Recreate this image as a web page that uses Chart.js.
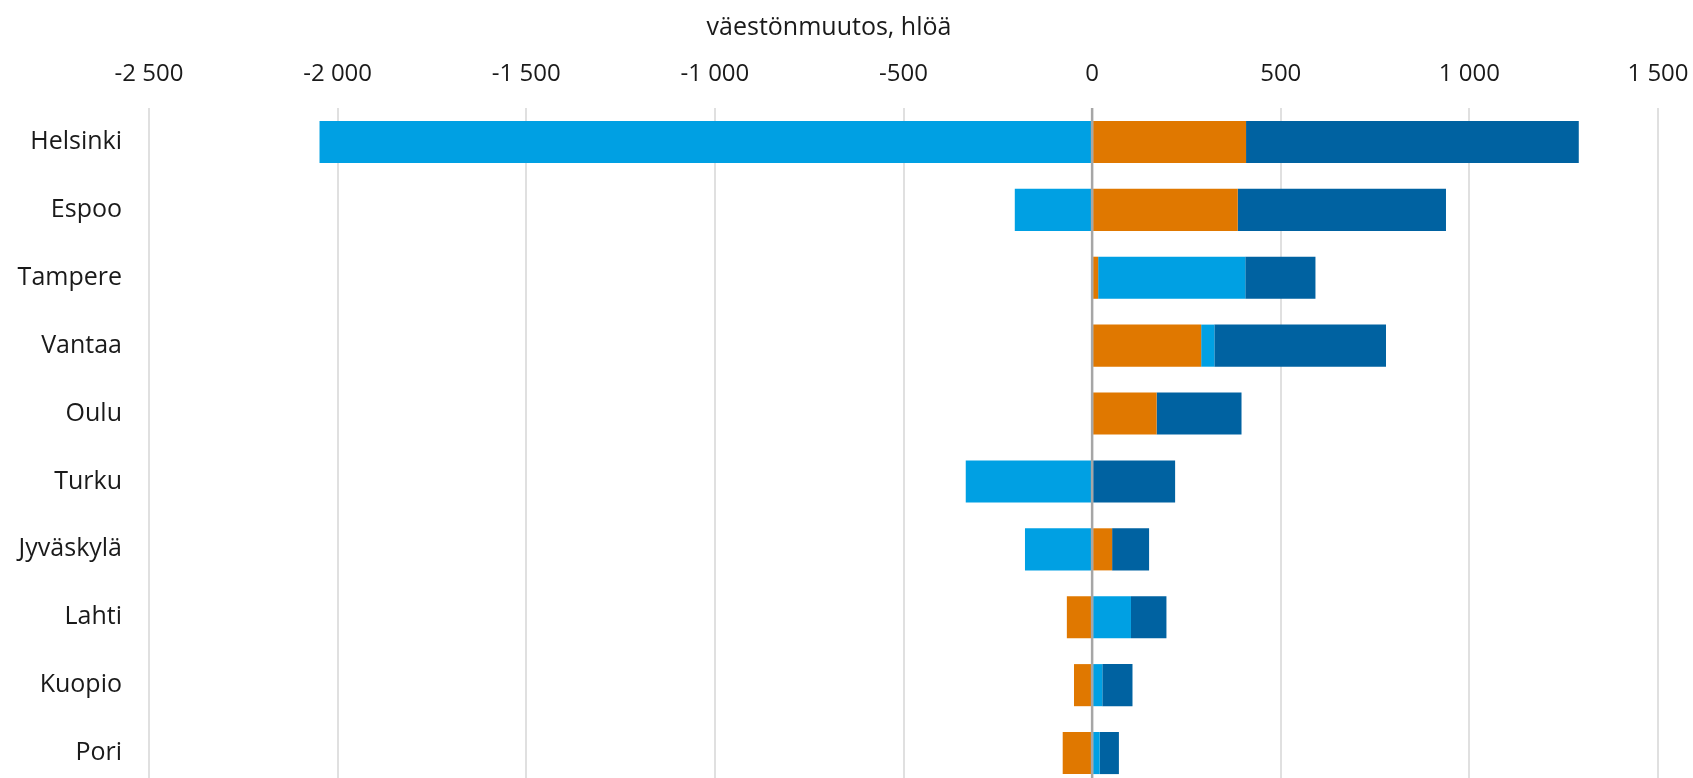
<!DOCTYPE html>
<html>
<head>
<meta charset="utf-8">
<script src="https://cdn.jsdelivr.net/npm/chart.js@4"></script>
<style>
  html, body { margin: 0; padding: 0; background: #fff; overflow: hidden; }
</style>
</head>
<body>
<canvas id="chart" width="1693" height="787"></canvas>
<script>
// kunnat ja väestönmuutoksen osat (hlöä)
const cities = ['Helsinki', 'Espoo', 'Tampere', 'Vantaa', 'Oulu', 'Turku', 'Jyväskylä', 'Lahti', 'Kuopio', 'Pori'];
const naturalIncrease = [408, 386, 16, 289, 171, 0, 53, -67, -48, -78];
const domesticMigration = [-2048, -205, 390, 35, 0, -335, -178, 103, 27, 20];
const immigration = [882, 552, 186, 455, 225, 220, 98, 94, 80, 51];

const axisTitle = 'väestönmuutos, hlöä';
const xMin = -2500, xMax = 1500, xStep = 500;

const FONT = '"Open Sans", "Noto Sans", sans-serif';

function fmt(v) {
  const s = String(Math.abs(v)).replace(/\B(?=(\d{3})+(?!\d))/g, ' ');
  return (v < 0 ? '-' : '') + s;
}

// nollaviiva palkkien päälle
const zeroLine = {
  id: 'zeroLine',
  afterDatasetsDraw(chart) {
    const x = chart.scales.x.getPixelForValue(0);
    const ctx = chart.ctx;
    ctx.save();
    ctx.strokeStyle = '#a6a6a6';
    ctx.lineWidth = 2.5;
    ctx.beginPath();
    ctx.moveTo(x, chart.chartArea.top);
    ctx.lineTo(x, chart.chartArea.bottom);
    ctx.stroke();
    ctx.restore();
  }
};

new Chart(document.getElementById('chart'), {
  type: 'bar',
  data: {
    labels: cities,
    datasets: [
      { label: 'Luonnollinen väestönlisäys', data: naturalIncrease, backgroundColor: '#e07800' },
      { label: 'Kuntien välinen nettomuutto', data: domesticMigration, backgroundColor: '#00a0e3' },
      { label: 'Nettomaahanmuutto', data: immigration, backgroundColor: '#0062a1' }
    ]
  },
  options: {
    indexAxis: 'y',
    responsive: false,
    animation: false,
    barPercentage: 0.62,
    categoryPercentage: 1,
    layout: { padding: { left: 0, right: 35, top: 0, bottom: 0 } },
    plugins: {
      legend: { display: false },
      tooltip: { enabled: false },
      title: {
        display: true,
        text: axisTitle,
        color: '#1a1a1a',
        font: { family: FONT, size: 25, weight: 'normal' },
        padding: { top: 13, bottom: 17 }
      }
    },
    scales: {
      x: {
        position: 'top',
        stacked: true,
        min: xMin,
        max: xMax,
        ticks: {
          stepSize: xStep,
          color: '#1a1a1a',
          padding: 19,
          font: { family: FONT, size: 24 },
          callback: v => fmt(v)
        },
        grid: { color: '#e0e0e0', lineWidth: 2, drawTicks: false },
        border: { display: false },
        afterFit(scale) { scale.height = 48; scale.paddingLeft = 0; scale.paddingRight = 0; }
      },
      y: {
        stacked: true,
        ticks: {
          color: '#1a1a1a',
          padding: 27,
          font: { family: FONT, size: 25 }
        },
        grid: { display: false, drawTicks: false },
        border: { display: false },
        afterFit(scale) { scale.width = 149; scale.paddingTop = 0; scale.paddingBottom = 0; }
      }
    }
  },
  plugins: [zeroLine]
});
</script>
</body>
</html>
